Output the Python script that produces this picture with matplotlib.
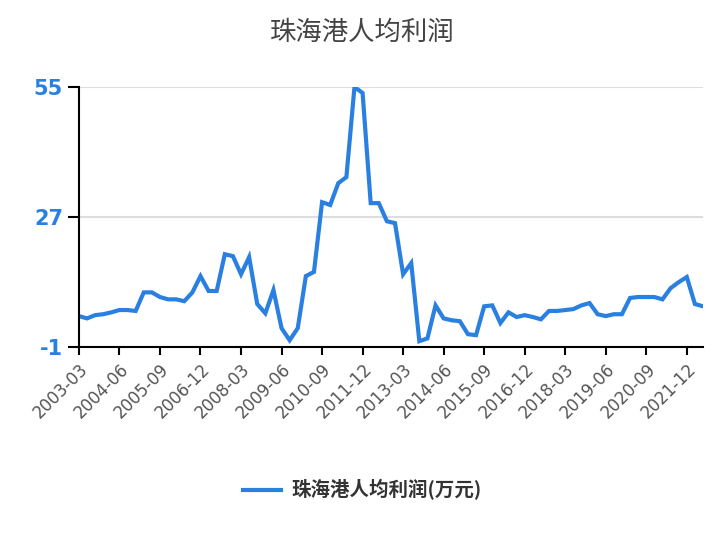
import matplotlib
matplotlib.use("Agg")
import matplotlib.pyplot as plt
import pandas as pd

plt.rcParams['font.family'] = ['Noto Sans CJK SC', 'DejaVu Sans']

dates = pd.period_range("2003Q1", periods=78, freq="Q")
labels = [f"{p.year}-{p.quarter*3:02d}" for p in dates]
values = [5.7, 5.2, 5.9, 6.1, 6.5, 7.0, 7.0, 6.8, 10.8, 10.8,
          9.8, 9.3, 9.3, 8.9, 10.8, 14.3, 11.1, 11.1, 19.0, 18.6,
          14.7, 18.4, 8.3, 6.3, 11.3, 3.1, 0.5, 3.1, 14.3, 15.2,
          30.2, 29.6, 34.3, 35.6, 55.0, 53.7, 30.0, 30.0, 26.1, 25.7,
          14.7, 17.1, 0.3, 0.9, 8.0, 5.2, 4.8, 4.6, 1.8, 1.6,
          7.8, 8.0, 4.2, 6.5, 5.5, 5.9, 5.5, 5.0, 6.8, 6.8,
          7.0, 7.2, 8.0, 8.5, 6.1, 5.7, 6.1, 6.1, 9.6, 9.8,
          9.8, 9.8, 9.3, 11.7, 13.0, 14.1, 8.3, 7.8]
series_name = "珠海港人均利润(万元)"
yticks = [-1, 27, 55]

fig = plt.figure(figsize=(7.24, 5.40), dpi=100)
ax = fig.add_axes([0.109, 0.357, 0.862, 0.482])
x = list(range(len(values)))
line, = ax.plot(x, values, color="#2a80e0", lw=3, label=series_name, solid_joinstyle="miter")
ax.set_ylim(-1, 55)
ax.set_xlim(0, len(values) - 1)
ax.set_yticks(yticks)
ax.set_yticklabels([str(v) for v in yticks], color="#2a80e0", fontweight="bold", fontsize=15,
                   family=["DejaVu Sans"])
ax.set_xticks(x[::5])
ax.set_xticklabels(labels[::5], rotation=45, ha="right", rotation_mode="anchor",
                   color="#555555", fontsize=12, family=["DejaVu Sans"])
ax.grid(axis="y", color="#dddddd", lw=1.5)
ax.set_axisbelow(True)
for s in ["top", "right"]:
    ax.spines[s].set_visible(False)
ax.spines["left"].set_linewidth(1.5)
ax.spines["bottom"].set_linewidth(1.5)
ax.tick_params(axis="y", length=8, width=1.5)
ax.tick_params(axis="x", length=6, width=1.5)
fig.suptitle("珠海港人均利润", y=0.965, fontsize=19, color="#444444", fontweight="medium")
fig.legend(handles=[line], loc="center", bbox_to_anchor=(0.5, 0.093), frameon=False,
           prop={"size": 14, "weight": "bold"}, handlelength=2.0, handletextpad=0.5,
           labelcolor="#333333")
fig.savefig("out.png", dpi=100)
